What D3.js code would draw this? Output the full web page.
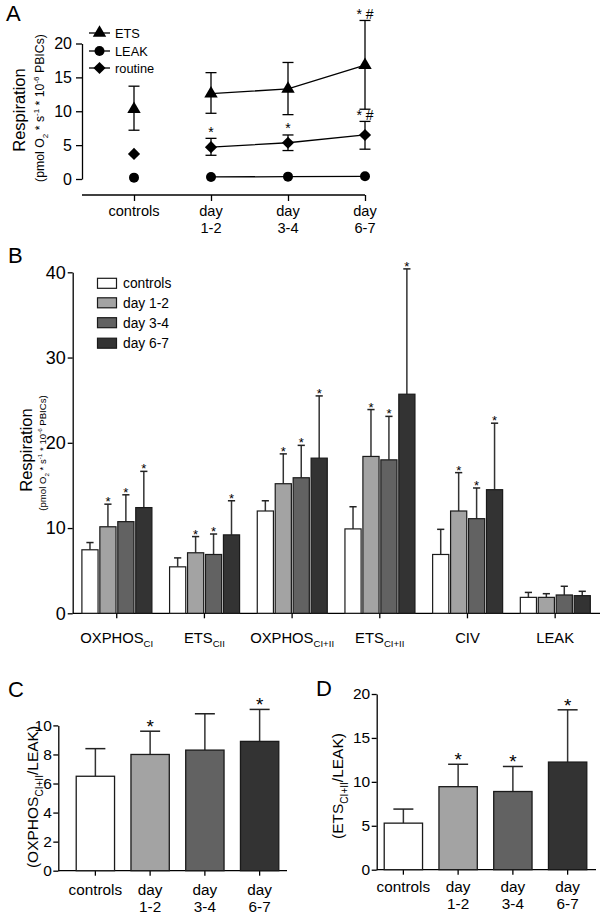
<!DOCTYPE html>
<html><head><meta charset="utf-8">
<script src="https://cdn.jsdelivr.net/npm/d3@7"></script>
<style>body{margin:0;background:#fff} svg{display:block}</style>
</head><body><svg id="c" width="600" height="917"></svg>
<script>
// ---------- DATA ----------
// Panel A
const groupsA = ["controls", "day 1-2", "day 3-4", "day 6-7"];
const yTicksA = [0, 5, 10, 15, 20];
const etsMean = [10.3, 12.6, 13.3, 16.8];
const etsLo = [7.2, 9.7, 9.5, 10.3];
const etsHi = [13.7, 15.7, 17.2, 23.4];
const etsAnnot = ["", "", "", "* #"];
const leakMean = [0.2, 0.3, 0.35, 0.4];
const routineMean = [3.7, 4.7, 5.35, 6.5];
const routineLo = [null, 3.5, 4.2, 4.4];
const routineHi = [null, 6.0, 6.5, 8.5];
const routineAnnot = ["", "*", "*", "* #"];

// Panel B
const catsB = ["OXPHOS_CI", "ETS_CII", "OXPHOS_CI+II", "ETS_CI+II", "CIV", "LEAK"];
const seriesB = ["controls", "day 1-2", "day 3-4", "day 6-7"];
const yTicksB = [0, 10, 20, 30, 40];
const bControls = [7.45, 5.45, 12.0, 9.9, 6.9, 1.87];
const bControlsErr = [8.3, 6.5, 13.2, 12.5, 9.85, 2.45];
const bDay12 = [10.15, 7.1, 15.2, 18.4, 12.0, 1.87];
const bDay12Err = [12.8, 9.0, 18.7, 23.9, 16.5, 2.3];
const bDay34 = [10.75, 6.9, 15.9, 18.0, 11.1, 2.15];
const bDay34Err = [13.9, 9.3, 19.7, 23.1, 14.7, 3.17];
const bDay67 = [12.4, 9.2, 18.2, 25.7, 14.5, 2.07];
const bDay67Err = [16.65, 13.2, 25.5, 40.4, 22.3, 2.58];
const bStars = [
  [false, false, false, false, false, false],
  [true, true, true, true, true, false],
  [true, true, true, true, true, false],
  [true, true, true, true, true, false]
];

// Panel C
const groupsC = ["controls", "day 1-2", "day 3-4", "day 6-7"];
const yTicksC = [0, 2, 4, 6, 8, 10];
const cMean = [6.5, 8.0, 8.3, 8.9];
const cErr = [8.4, 9.6, 10.8, 11.1];
const cStars = [false, true, false, true];

// Panel D
const yTicksD = [0, 5, 10, 15, 20];
const dMean = [5.3, 9.45, 8.9, 12.25];
const dErr = [6.9, 12.0, 11.75, 18.2];
const dStars = [false, true, true, true];

const fills = ["#ffffff", "#a3a3a3", "#626262", "#333333"];

// ---------- HELPERS ----------
const FONT = '"Liberation Sans", Arial, Helvetica, sans-serif';
const svg = d3.select("#c");
svg.append("rect").attr("width", 600).attr("height", 917).attr("fill", "#fff");

function styleAxis(g, fs) {
  g.selectAll("path, line").attr("stroke", "#000").attr("stroke-width", 1.3);
  g.selectAll("text").attr("font-size", fs).attr("font-family", FONT).attr("fill", "#000");
}
function richText(parent, parts, fs) {
  const t = parent.append("text").attr("font-family", FONT).attr("font-size", fs).attr("fill", "#000");
  let off = 0;
  parts.forEach(p => {
    let target = 0, size = fs;
    if (p.sub) { target = 0.3 * fs; size = 0.65 * fs; }
    if (p.sup) { target = -0.42 * fs; size = 0.65 * fs; }
    t.append("tspan").attr("font-size", size).attr("dy", (target - off) + "px").text(p.t);
    off = target;
  });
  return t;
}
function parseLabel(s) {
  const i = s.indexOf("_");
  if (i < 0) return [{t: s}];
  return [{t: s.slice(0, i)}, {t: s.slice(i + 1), sub: true}];
}
function panelLabel(txt, x, y) {
  svg.append("text").attr("x", x).attr("y", y).attr("font-family", FONT)
    .attr("font-size", 22).attr("fill", "#000").text(txt);
}
function twoLineLabels(g, scale, groups, y1, y2, fs) {
  groups.forEach(gname => {
    const x = scale(gname) + (scale.bandwidth ? scale.bandwidth() / 2 : 0);
    const parts = gname.startsWith("day") ? ["day", gname.slice(4)] : [gname];
    parts.forEach((p, i) => {
      g.append("text").attr("x", x).attr("y", i === 0 ? y1 : y2)
        .attr("text-anchor", "middle").attr("font-family", FONT).attr("font-size", fs)
        .attr("fill", "#000").text(p);
    });
  });
}
function marker(g, type, x, y) {
  if (type === "tri") {
    g.append("path").attr("d", d3.symbol(d3.symbolTriangle, 78)())
      .attr("transform", `translate(${x},${y})`).attr("fill", "#000");
  } else if (type === "circle") {
    g.append("circle").attr("cx", x).attr("cy", y).attr("r", 5).attr("fill", "#000");
  } else {
    g.append("rect").attr("x", -4.3).attr("y", -4.3).attr("width", 8.6).attr("height", 8.6)
      .attr("transform", `translate(${x},${y}) rotate(45)`).attr("fill", "#000");
  }
}

// ---------- PANEL A ----------
panelLabel("A", 6, 21);
const xA = d3.scalePoint().domain(groupsA).range([134, 365]);
const yA = d3.scaleLinear().domain([0, 20]).range([179, 43.5]);
const gA = svg.append("g");
gA.append("g").attr("transform", "translate(82,0)")
  .call(d3.axisLeft(yA).tickValues(yTicksA).tickSize(6).tickSizeOuter(0).tickPadding(4))
  .call(styleAxis, 16);
const xAxA = gA.append("g").attr("transform", "translate(0,195)")
  .call(d3.axisBottom(xA).tickSize(6).tickSizeOuter(0).tickFormat(""));
xAxA.select(".domain").attr("d", "M82,0H365");
styleAxis(xAxA, 15);
twoLineLabels(gA, xA, groupsA, 216, 232.5, 14.6);

richText(gA, [{t: "Respiration"}], 16.5)
  .attr("text-anchor", "middle").attr("transform", "translate(25,110) rotate(-90)");
richText(gA, [{t: "(pmol O"}, {t: "2", sub: true}, {t: " * s"}, {t: "-1", sup: true},
  {t: " * 10"}, {t: "-6", sup: true}, {t: " PBICs)"}], 12.3)
  .attr("text-anchor", "middle").attr("transform", "translate(44,108) rotate(-90)");

const seriesA = [
  {name: "ETS", mean: etsMean, lo: etsLo, hi: etsHi, sym: "tri", annot: etsAnnot},
  {name: "LEAK", mean: leakMean, lo: null, hi: null, sym: "circle", annot: null},
  {name: "routine", mean: routineMean, lo: routineLo, hi: routineHi, sym: "diamond", annot: routineAnnot}
];
const lineA = d3.line().x(d => xA(d.g)).y(d => yA(d.v));
seriesA.forEach((s, si) => {
  const pts = groupsA.map((gname, i) => ({g: gname, v: s.mean[i], i}));
  gA.append("path").datum(pts.slice(1)).attr("d", lineA)
    .attr("fill", "none").attr("stroke", "#000").attr("stroke-width", 1.3);
  if (s.lo) {
    pts.forEach(p => {
      if (s.lo[p.i] == null) return;
      const x = xA(p.g);
      gA.append("line").attr("x1", x).attr("x2", x).attr("y1", yA(s.lo[p.i])).attr("y2", yA(s.hi[p.i]))
        .attr("stroke", "#000").attr("stroke-width", 1.3);
      [s.lo[p.i], s.hi[p.i]].forEach(v => {
        gA.append("line").attr("x1", x - 5.5).attr("x2", x + 5.5).attr("y1", yA(v)).attr("y2", yA(v))
          .attr("stroke", "#000").attr("stroke-width", 1.3);
      });
    });
  }
  pts.forEach(p => marker(gA, s.sym, xA(p.g), yA(p.v)));
  if (s.annot) {
    pts.forEach(p => {
      if (!s.annot[p.i]) return;
      gA.append("text").attr("x", xA(p.g)).attr("y", yA(s.hi[p.i]) - 1.5)
        .attr("text-anchor", "middle").attr("font-family", FONT).attr("font-size", 14)
        .attr("fill", "#000").text(s.annot[p.i]);
    });
  }
  // legend
  const ly = [33, 51, 68][si];
  gA.append("line").attr("x1", 89).attr("x2", 110).attr("y1", ly).attr("y2", ly)
    .attr("stroke", "#000").attr("stroke-width", 1.3);
  marker(gA, s.sym, 99.5, ly);
  gA.append("text").attr("x", 115).attr("y", ly).attr("dy", "0.36em")
    .attr("font-family", FONT).attr("font-size", 12.8).attr("fill", "#000").text(s.name);
});

// ---------- PANEL B ----------
panelLabel("B", 8, 263);
const gB = svg.append("g");
const xB = d3.scaleBand().domain(catsB).range([72.9, 599]).padding(0);
const xBin = d3.scaleBand().domain(seriesB).range([9, 79]).paddingInner(0.1);
const yB = d3.scaleLinear().domain([0, 40]).range([613.3, 272.3]);
gB.append("g").attr("transform", "translate(72.7,0)")
  .call(d3.axisLeft(yB).tickValues(yTicksB).tickSize(5).tickSizeOuter(0).tickPadding(2))
  .call(styleAxis, 18);
const xAxB = gB.append("g").attr("transform", "translate(0,613.3)")
  .call(d3.axisBottom(xB).tickSize(5).tickSizeOuter(0).tickFormat(""));
xAxB.select(".domain").attr("d", "M72.7,0H600");
styleAxis(xAxB, 14);
catsB.forEach(c => {
  richText(gB, parseLabel(c), 14.8).attr("x", xB(c) + xB.bandwidth() / 2).attr("y", 643)
    .attr("text-anchor", "middle");
});
richText(gB, [{t: "Respiration"}], 16.5)
  .attr("text-anchor", "middle").attr("transform", "translate(32,450) rotate(-90)");
richText(gB, [{t: "(pmol O"}, {t: "2", sub: true}, {t: " * s"}, {t: "-1", sup: true},
  {t: " * 10"}, {t: "-6", sup: true}, {t: " PBICs)"}], 9.6)
  .attr("text-anchor", "middle").attr("transform", "translate(46,453) rotate(-90)");

const bVals = [bControls, bDay12, bDay34, bDay67];
const bErrs = [bControlsErr, bDay12Err, bDay34Err, bDay67Err];
seriesB.forEach((s, si) => {
  catsB.forEach((c, ci) => {
    const x = xB(c) + xBin(s);
    const w = xBin.bandwidth();
    const cx = x + w / 2;
    const v = bVals[si][ci], e = bErrs[si][ci];
    gB.append("line").attr("x1", cx).attr("x2", cx).attr("y1", yB(v)).attr("y2", yB(e))
      .attr("stroke", "#333").attr("stroke-width", 1.5);
    gB.append("line").attr("x1", cx - 3.6).attr("x2", cx + 3.6).attr("y1", yB(e)).attr("y2", yB(e))
      .attr("stroke", "#222").attr("stroke-width", 1.5);
    gB.append("rect").attr("x", x).attr("y", yB(v)).attr("width", w).attr("height", yB(0) - yB(v))
      .attr("fill", fills[si]).attr("stroke", "#1a1a1a").attr("stroke-width", 1.2);
    if (bStars[si][ci]) {
      gB.append("text").attr("x", cx).attr("y", yB(e) + 2).attr("text-anchor", "middle")
        .attr("font-family", FONT).attr("font-size", 13).attr("fill", "#000").text("*");
    }
  });
  const ly = [283.3, 302.8, 322.7, 343.2][si];
  gB.append("rect").attr("x", 97.5).attr("y", ly - 5).attr("width", 19).attr("height", 10)
    .attr("fill", fills[si]).attr("stroke", "#1a1a1a").attr("stroke-width", 1.2);
  gB.append("text").attr("x", 123).attr("y", ly).attr("dy", "0.36em").attr("font-family", FONT)
    .attr("font-size", 13.8).attr("fill", "#000").text(s);
});

// ---------- PANEL C & D ----------
function ratioPanel(opts) {
  const g = svg.append("g");
  const x = d3.scaleBand().domain(groupsC).range(opts.xr).paddingInner(0.3).paddingOuter(0.15);
  const y = d3.scaleLinear().domain(opts.yd).range(opts.yr);
  g.append("g").attr("transform", `translate(${opts.ax},0)`)
    .call(d3.axisLeft(y).tickValues(opts.ticks).tickSize(5).tickSizeOuter(0).tickPadding(1.5))
    .call(styleAxis, 15.5);
  const xa = g.append("g").attr("transform", `translate(0,${opts.yr[0]})`)
    .call(d3.axisBottom(x).tickSize(5).tickSizeOuter(0).tickFormat(""));
  xa.select(".domain").attr("d", `M${opts.ax},0H${opts.xEnd}`);
  styleAxis(xa, 15);
  twoLineLabels(g, x, groupsC, opts.l1, opts.l2, 15.3);
  groupsC.forEach((gn, i) => {
    const bx = x(gn), w = x.bandwidth(), cx = bx + w / 2;
    g.append("line").attr("x1", cx).attr("x2", cx).attr("y1", y(opts.mean[i])).attr("y2", y(opts.err[i]))
      .attr("stroke", "#333").attr("stroke-width", 1.5);
    g.append("line").attr("x1", cx - 10).attr("x2", cx + 10).attr("y1", y(opts.err[i])).attr("y2", y(opts.err[i]))
      .attr("stroke", "#222").attr("stroke-width", 1.5);
    g.append("rect").attr("x", bx).attr("y", y(opts.mean[i])).attr("width", w)
      .attr("height", y(0) - y(opts.mean[i])).attr("fill", fills[i])
      .attr("stroke", "#1a1a1a").attr("stroke-width", 1.3);
    if (opts.stars[i]) {
      g.append("text").attr("x", cx).attr("y", y(opts.err[i]) + 2).attr("text-anchor", "middle")
        .attr("font-family", FONT).attr("font-size", 19).attr("fill", "#000").text("*");
    }
  });
  richText(g, opts.ylab, 15.5).attr("text-anchor", "middle")
    .attr("transform", `translate(${opts.labX},${opts.labY}) rotate(-90)`);
}
panelLabel("C", 8, 697);
ratioPanel({xr: [68, 287], yd: [0, 10], yr: [870.7, 725.4], ax: 58.3, xEnd: 287, ticks: yTicksC,
  mean: cMean, err: cErr, stars: cStars, l1: 895, l2: 911.5, labX: 38, labY: 797,
  ylab: [{t: "(OXPHOS"}, {t: "CI+II", sub: true}, {t: "/LEAK)"}]});
panelLabel("D", 316, 696);
ratioPanel({xr: [376, 595], yd: [0, 20], yr: [869.7, 694], ax: 376.7, xEnd: 596, ticks: yTicksD,
  mean: dMean, err: dErr, stars: dStars, l1: 892, l2: 908.5, labX: 343, labY: 786,
  ylab: [{t: "(ETS"}, {t: "CI+II", sub: true}, {t: "/LEAK)"}]});
</script></body></html>
